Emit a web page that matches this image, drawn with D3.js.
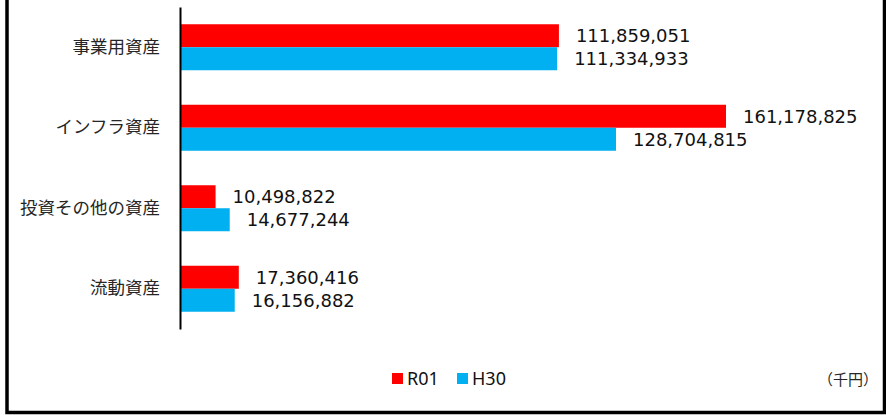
<!DOCTYPE html>
<html>
<head>
<meta charset="utf-8">
<script src="https://cdn.jsdelivr.net/npm/d3@7"></script>
<style>
  body { margin: 0; background: #fff; }
  svg { display: block; font-family: "DejaVu Sans", "Noto Sans CJK JP", sans-serif; }
</style>
</head>
<body>
<div id="chart"></div>
<script>
// data
const categories = ["事業用資産", "インフラ資産", "投資その他の資産", "流動資産"];
const seriesNames = ["R01", "H30"];
const valuesR01 = [111859051, 161178825, 10498822, 17360416];
const valuesH30 = [111334933, 128704815, 14677244, 16156882];
const seriesColors = ["#FF0000", "#00B0F0"];
const unitLabel = "（千円）";

const width = 886;
const height = 415;

const svg = d3.select("#chart")
    .append("svg")
    .attr("width", width)
    .attr("height", height);

// outer frame (top edge falls outside the picture)
svg.append("rect")
    .attr("x", 7)
    .attr("y", -10)
    .attr("width", 877.5)
    .attr("height", 422.5)
    .attr("fill", "none")
    .attr("stroke", "#000")
    .attr("stroke-width", 3.5);

// scales
const y = d3.scaleBand()
    .domain(categories)
    .range([7, 329])
    .padding(0);

const ySeries = d3.scaleBand()
    .domain(seriesNames)
    .range([0, y.bandwidth()])
    .paddingInner(0)
    .paddingOuter(0.75);

const x = d3.scaleLinear()
    .domain([0, 200000000])
    .range([180, 857.5]);

const rows = categories.map((c, i) => ({
    category: c,
    values: [
        { series: "R01", value: valuesR01[i], color: seriesColors[0] },
        { series: "H30", value: valuesH30[i], color: seriesColors[1] }
    ]
}));

const groups = svg.selectAll("g.cat")
    .data(rows)
    .join("g")
    .attr("class", "cat")
    .attr("transform", d => `translate(0,${y(d.category)})`);

groups.selectAll("rect")
    .data(d => d.values)
    .join("rect")
    .attr("x", x(0))
    .attr("y", d => ySeries(d.series))
    .attr("width", d => x(d.value) - x(0))
    .attr("height", ySeries.bandwidth())
    .attr("fill", d => d.color);

// data labels
groups.selectAll("text.val")
    .data(d => d.values)
    .join("text")
    .attr("class", "val")
    .attr("x", d => x(d.value) + 17)
    .attr("y", d => ySeries(d.series) + ySeries.bandwidth() / 2)
    .attr("dy", "0.36em")
    .attr("fill", "#111")
    .style("font-size", "18px")
    .text(d => d3.format(",")(d.value));

// category axis
const axis = svg.append("g")
    .attr("transform", `translate(${x(0)},0)`)
    .call(d3.axisLeft(y).tickSize(0).tickSizeOuter(0).tickPadding(20));

axis.select(".domain")
    .attr("stroke", "#000")
    .attr("stroke-width", 2);

axis.selectAll("text")
    .attr("fill", "#262626")
    .style("font-size", "17.5px")
    .style("font-family", "'Noto Sans CJK JP', sans-serif");

// legend
const legendX = [392, 457];
const legend = svg.selectAll("g.legend")
    .data(seriesNames)
    .join("g")
    .attr("class", "legend")
    .attr("transform", (d, i) => `translate(${legendX[i]},373)`);

legend.append("rect")
    .attr("width", 11)
    .attr("height", 11)
    .attr("fill", (d, i) => seriesColors[i]);

legend.append("text")
    .attr("x", 15)
    .attr("y", 6)
    .attr("dy", "0.36em")
    .attr("fill", "#111")
    .style("font-size", "18px")
    .style("font-family", "'Noto Sans', sans-serif")
    .text(d => d);

// unit
svg.append("text")
    .attr("x", 878)
    .attr("y", 380)
    .attr("dy", "0.36em")
    .attr("text-anchor", "end")
    .attr("fill", "#262626")
    .style("font-size", "15px")
    .style("font-family", "'Noto Sans CJK JP', sans-serif")
    .text(unitLabel);
</script>
</body>
</html>
